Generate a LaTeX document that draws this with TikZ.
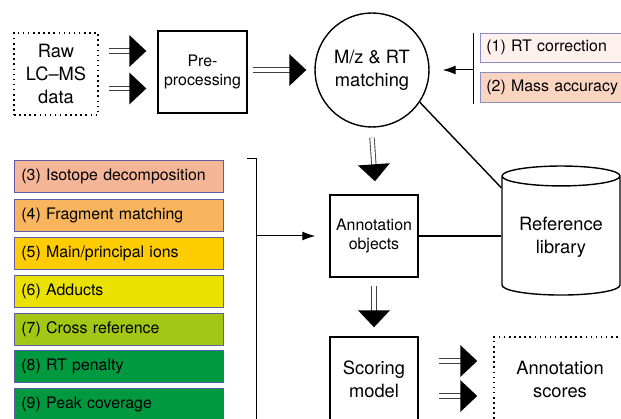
\documentclass[tikz,border=0pt]{standalone}
\usepackage{fontspec}
\setmainfont{TeX Gyre Heros}
\usetikzlibrary{arrows.meta,shapes.geometric,decorations.markings}
\definecolor{boxline}{HTML}{5B5EA6}
\definecolor{cone}{HTML}{FEF1EE}
\definecolor{ctwo}{HTML}{F9D5C1}
\definecolor{cthree}{HTML}{F5B597}
\definecolor{cfour}{HTML}{F8B55E}
\definecolor{cfive}{HTML}{FFCC00}
\definecolor{csix}{HTML}{EBE100}
\definecolor{cseven}{HTML}{A4C615}
\definecolor{ceight}{HTML}{00993F}
\newcommand{\bigtxt}{\fontsize{18.3}{23}\selectfont}
\newcommand{\smalltxt}{\fontsize{15.9}{19}\selectfont}
\tikzset{
  stage/.style={draw, line width=1.4pt, minimum width=88pt, minimum height=82pt, align=center, font=\bigtxt},
  datafile/.style={draw, line width=1.5pt, dash pattern=on 1.5pt off 3.6pt, align=center, font=\bigtxt},
  crit/.style={draw=boxline, line width=0.8pt, anchor=west, minimum height=32pt, text width=195pt, inner xsep=7pt, align=left, font=\smalltxt},
  fat/.style={draw=black!75, line width=0.9pt, double=white, double distance=3.5pt, shorten >=15pt,
    decoration={markings, mark=at position 1 with {\fill[black] (0pt,0pt) -- (-17pt,16pt) -- (-17pt,-16pt) -- cycle;}},
    postaction={decorate}},
  thin/.style={line width=1pt, -{Latex[length=13pt,width=9pt]}},
}
\begin{document}
\begin{tikzpicture}[x=1pt,y=-1pt]
  \clip (0,0) rectangle (621,419);
  % top row
  \node[datafile, minimum width=84pt, minimum height=82pt] (raw) at (56,74) {Raw\\LC–MS\\data};
  \node[stage, minimum width=89pt, font=\smalltxt] (pre) at (202.5,72) {Pre-\\processing};
  \node[draw, circle, line width=1.4pt, minimum size=114pt, align=center, font=\bigtxt] (match) at (372,70) {M/z \& RT\\matching};
  \node[crit, fill=cone, draw=boxline!70, text width=166pt, inner xsep=6pt, minimum height=29pt] (rtcor) at (480,47.5) {(1) RT correction};
  \node[crit, fill=ctwo, draw=boxline!70, text width=166pt, inner xsep=6pt, minimum height=30pt] (massacc) at (480,87) {(2) Mass accuracy};
  % middle
  \node[stage, font=\smalltxt] (annot) at (374,236) {Annotation\\objects};
  \node[draw, cylinder, shape border rotate=90, shape aspect=0.22, line width=1.4pt, minimum width=118pt, minimum height=129pt, align=center, font=\bigtxt] (lib) at (561,237.5) {Reference\\library};
  \node[stage, minimum height=84pt] (score) at (374,379) {Scoring\\model};
  \node[datafile, minimum width=132pt, minimum height=84pt] (scores) at (560,379) {Annotation\\scores};
  % criteria on the left
  \node[crit, fill=cthree] (iso) at (14,176) {(3) Isotope decomposition};
  \node[crit, fill=cfour] (frag) at (14,215) {(4) Fragment matching};
  \node[crit, fill=cfive] (ions) at (14,253) {(5) Main/principal ions};
  \node[crit, fill=csix] (adducts) at (14,291) {(6) Adducts};
  \node[crit, fill=cseven] (xref) at (14,329) {(7) Cross reference};
  \node[crit, fill=ceight] (rtpen) at (14,366.5) {(8) RT penalty};
  \node[crit, fill=ceight] (peak) at (14,404) {(9) Peak coverage};
  % brackets
  \coordinate (ltop) at (256,159);
  \coordinate (lmid) at (256,236);
  \draw[line width=1pt] (247,159) -- (ltop) -- (256,430);
  \draw[thin, shorten >=14pt] (lmid) -- (annot.west);
  \coordinate (rmid) at (473,70);
  \draw[line width=1pt] (473,33) -- (473,104);
  \draw[thin, shorten >=13pt] (rmid) -- (match.east);
  % flow
  \draw[fat] ([xshift=10pt,yshift=23pt]raw.east) -- ([xshift=-11pt,yshift=21pt]pre.west);
  \draw[fat] ([xshift=10pt,yshift=-14.5pt]raw.east) -- ([xshift=-11pt,yshift=-16.5pt]pre.west);
  \draw[fat] ([xshift=5pt,yshift=2pt]pre.east) -- ([xshift=-8pt]match.west);
  \draw[fat] ([yshift=-10pt]match.south) -- ([xshift=1pt,yshift=13pt]annot.north);
  \draw[fat] ([yshift=-8pt]annot.south) -- ([yshift=9pt]score.north);
  \draw[fat] ([xshift=20pt,yshift=18pt]score.east) -- ([xshift=-16pt,yshift=18pt]scores.west);
  \draw[fat] ([xshift=20pt,yshift=-17pt]score.east) -- ([xshift=-16pt,yshift=-17pt]scores.west);
  \draw[line width=1.4pt] (match.-34) -- ([yshift=-10pt]lib.north west);
  \draw[line width=1.4pt] (annot.east) -- (annot.east -| lib.west);
\end{tikzpicture}
\end{document}
